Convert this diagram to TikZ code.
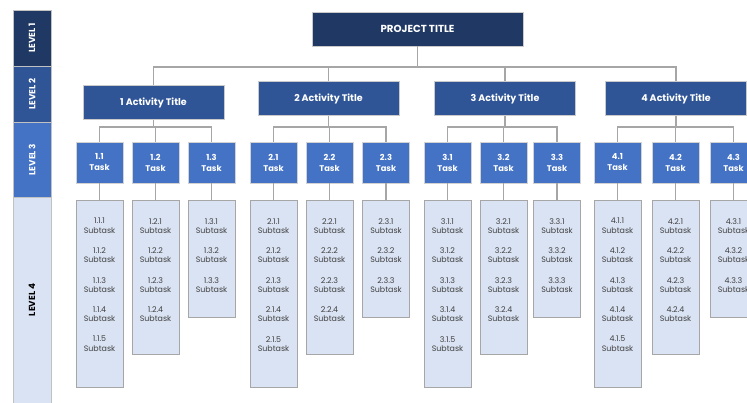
\documentclass[tikz,border=0pt]{standalone}
\usepackage{fontspec}
\setmainfont{Poppins}
\begin{document}
\definecolor{navy}{HTML}{203864}
\definecolor{midblue}{HTML}{2F5597}
\definecolor{taskblue}{HTML}{4472C4}
\definecolor{paleblue}{HTML}{DAE3F3}
\definecolor{linegray}{HTML}{A6A6A6}
\definecolor{txtgray}{HTML}{404040}
\begin{tikzpicture}[x=1pt,y=-1pt,
  lvl/.style={draw=linegray!70,line width=0.6pt},
  lvltxt/.style={rotate=90,font=\bfseries\fontsize{8.8}{9}\selectfont},
  projbox/.style={fill=navy,draw=linegray!60,line width=0.8pt,text=white,
    font=\bfseries\fontsize{10.2}{12}\selectfont,minimum width=211pt,minimum height=34pt,inner sep=0},
  actbox/.style={fill=midblue,draw=linegray!60,line width=0.8pt,text=white,
    font=\bfseries\fontsize{9.5}{11}\selectfont,minimum width=141pt,minimum height=34pt,inner sep=0},
  taskbox/.style={fill=taskblue,draw=linegray!50,line width=0.8pt,
    minimum width=47pt,minimum height=41pt,inner sep=0},
  tasktxt/.style={text=white,align=center,inner sep=0,
    font=\bfseries\fontsize{8.3}{11}\selectfont},
  subbox/.style={fill=paleblue,draw=linegray,line width=0.9pt,anchor=north,
    minimum width=47pt,inner sep=0},
  subtxt/.style={align=center,text=txtgray,font=\fontsize{7.9}{9.3}\selectfont,inner sep=0},
  link/.style={draw=linegray,line width=1.4pt}
]
\useasboundingbox (0,0) rectangle (747,403);
\fill[white] (0,0) rectangle (747,403);

% level bar on the left
\filldraw[lvl,fill=navy] (13,10) rectangle (51,66);
\filldraw[lvl,fill=midblue] (13,66) rectangle (51,122);
\filldraw[lvl,fill=taskblue] (13,122) rectangle (51,197);
\filldraw[lvl,fill=paleblue] (13,197) rectangle (51,410);
\node[lvltxt,text=white] (l1) at (32,38) {LEVEL 1};
\node[lvltxt,text=white] (l2) at (32,94) {LEVEL 2};
\node[lvltxt,text=white] (l3) at (32,159.5) {LEVEL 3};
\node[lvltxt,text=black] (l4) at (32,300) {LEVEL 4};

% level 1 and level 2
\node[projbox] (p) at (417.5,29) {PROJECT TITLE};
\node[actbox] (a1) at (153.5,102.5) {1 Activity Title};
\node[actbox] (a2) at (328.5,98.5) {2 Activity Title};
\node[actbox] (a3) at (505,98.5) {3 Activity Title};
\node[actbox] (a4) at (676,98.5) {4 Activity Title};

\coordinate (bus) at (417.5,67);
\coordinate (tbus) at (0,127);

% level 3 tasks
\foreach \n/\x in {11/99.5,12/155.5,13/211.5,21/273.5,22/329.5,23/386,
                   31/447.5,32/503.5,33/557,41/617.5,42/675.5,43/733.5}{
  \node[taskbox] (t\n) at (\x,162.5) {};
}
\foreach \a in {1,2,3,4}{
  \foreach \b in {1,2,3}{
    \node[tasktxt] at (t\a\b) {\a.\b\\Task};
  }
}

% level 4 subtask columns
\foreach \a/\b/\h in {1/1/187,1/2/154,1/3/117,2/1/187,2/2/154,2/3/117,
                      3/1/187,3/2/154,3/3/117,4/1/187,4/2/154,4/3/117}{
  \node[subbox,minimum height=\h pt] (s\a\b) at ([yshift=-17pt]t\a\b.south) {};
}
\foreach \a/\b/\m in {1/1/5,1/2/4,1/3/3,2/1/5,2/2/4,2/3/3,
                      3/1/5,3/2/4,3/3/3,4/1/5,4/2/4,4/3/3}{
  \foreach \k in {1,...,\m}{
    \node[subtxt] at ([yshift={-25.4pt-29.5pt*(\k-1)}]s\a\b.north) {\a.\b.\k\\Subtask};
  }
}

% connectors
\draw[link] (p.south) -- (p.south |- bus);
\draw[link] (a1.north) |- (a4.north |- bus) -- (a4.north);
\draw[link] (a2.north) -- (a2.north |- bus);
\draw[link] (a3.north) -- (a3.north |- bus);
\foreach \a in {1,2,3,4}{
  \draw[link] (a\a.south) -- (a\a.south |- tbus);
  \draw[link] (t\a1.north) |- (t\a3.north |- tbus) -- (t\a3.north);
  \draw[link] (t\a2.north) -- (t\a2.north |- tbus);
  \foreach \b in {1,2,3}{
    \draw[link] (t\a\b.south) -- (s\a\b.north);
  }
}
\end{tikzpicture}
\end{document}
